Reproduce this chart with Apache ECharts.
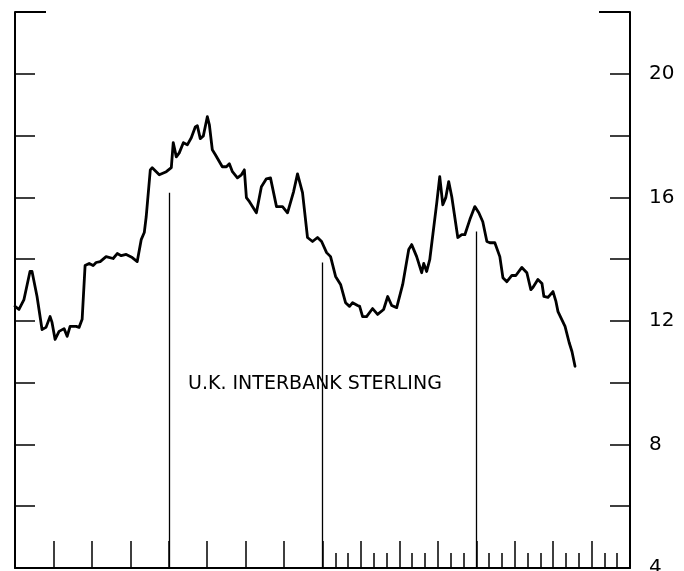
<!DOCTYPE html>
<html>
<head>
<meta charset="utf-8">
<script src="https://cdn.jsdelivr.net/npm/echarts@6/dist/echarts.min.js"></script>
<style>
  html, body { margin: 0; padding: 0; background: #fff; }
  #chart { width: 684px; height: 571px; }
</style>
</head>
<body>
<div id="chart"></div>
<script>
// months counted from the left edge of the chart (4 years = 48 months)
const months = [
  0, 0.31, 0.70, 1.17, 1.33, 1.72, 2.11, 2.42, 2.74, 2.89, 3.13, 3.44, 3.83, 4.07, 4.30, 4.77,
  5.00, 5.24, 5.47, 5.79, 6.10, 6.33, 6.65, 7.11, 7.66, 7.98, 8.29, 8.68, 9.15, 9.54, 9.85,
  10.09, 10.24, 10.56, 10.71, 11.26, 11.81, 12.20, 12.35, 12.59, 12.82, 13.14, 13.45, 13.76,
  14.07, 14.23, 14.46, 14.70, 15.01, 15.17, 15.40, 15.64, 16.18, 16.50, 16.73, 16.97, 17.36,
  17.67, 17.90, 18.06, 18.30, 18.84, 19.23, 19.62, 19.94, 20.41, 20.56, 20.88, 21.27, 21.74,
  22.05, 22.44, 22.83, 23.22, 23.61, 23.93, 24.32, 24.63, 25.02, 25.41, 25.80, 26.11, 26.35,
  26.74, 26.90, 27.13, 27.44, 27.91, 28.30, 28.77, 29.09, 29.40, 29.79, 30.26, 30.73, 30.96,
  31.35, 31.74, 31.90, 32.13, 32.37, 32.92, 33.15, 33.39, 33.62, 33.85, 34.09, 34.56, 34.87,
  35.11, 35.26, 35.50, 35.89, 36.20, 36.51, 36.83, 37.06, 37.45, 37.84, 38.08, 38.39, 38.78,
  39.09, 39.56, 39.95, 40.26, 40.42, 40.81, 41.13, 41.28, 41.60, 41.99, 42.22, 42.38, 42.93,
  43.25, 43.47, 43.71
]
const rates = [
  12.47, 12.37, 12.69, 13.60, 13.60, 12.79, 11.72, 11.79, 12.14, 11.95, 11.40, 11.66, 11.75, 11.50, 11.82, 11.82,
  11.79, 12.05, 13.79, 13.86, 13.79, 13.89, 13.92, 14.08, 14.02, 14.18, 14.11, 14.15, 14.05, 13.92, 14.63,
  14.86, 15.37, 16.89, 16.96, 16.73, 16.83, 16.96, 17.77, 17.31, 17.44, 17.77, 17.70, 17.93,
  18.28, 18.32, 17.90, 17.99, 18.61, 18.35, 17.54, 17.38, 16.99, 16.99, 17.09, 16.83, 16.63,
  16.73, 16.89, 15.99, 15.86, 15.50, 16.34, 16.60, 16.63, 15.70, 15.67, 15.70, 15.50, 16.18,
  16.76, 16.15, 14.70, 14.57, 14.70, 14.57, 14.21, 14.08, 13.44, 13.18, 12.59, 12.47, 12.59,
  12.50, 12.47, 12.14, 12.14, 12.40, 12.21, 12.37, 12.79, 12.50, 12.43, 13.18, 14.31, 14.47,
  14.08, 13.56, 13.86, 13.60, 13.98, 15.83, 16.67, 15.76, 15.99, 16.51, 16.02, 14.70, 14.79,
  14.79, 14.73, 15.28, 15.70, 15.50, 15.21, 14.57, 14.53, 14.53, 14.08, 13.40, 13.27, 13.47,
  13.47, 13.73, 13.56, 13.01, 13.08, 13.34, 13.21, 12.79, 12.76, 12.95, 12.63, 12.30, 11.82,
  11.30, 11.01, 10.53
]

// year boundaries: vertical rules drawn from the axis up to just below the curve
const yearMonths = [12, 24, 36]
const yearLineTops = [16.15, 13.89, 14.89]

// monthly tick positions along the bottom axis
const tickMonths = []
for (let i = 0; i <= 48; i++) tickMonths.push(String(i))

const labelValues = [4, 8, 12, 16, 20]
const chartLabel = 'U.K. INTERBANK STERLING'

const chart = echarts.init(document.getElementById('chart'))

const black = '#000'

const option = {
  animation: false,
  title: {
    text: chartLabel,
    left: 183,
    top: 370,
    textStyle: { fontFamily: 'DejaVu Sans', fontSize: 19, fontWeight: 'normal', color: black }
  },
  grid: { left: 15, right: 54, top: 12, bottom: 3, outerBoundsMode: 'none', containLabel: false },
  xAxis: [
    {
      type: 'value', min: 0, max: 48, interval: 3,
      axisLine: { show: true, lineStyle: { color: black, width: 2 } },
      axisTick: { show: true, inside: true, length: 27, lineStyle: { color: black, width: 1.5 } },
      axisLabel: { show: false },
      splitLine: { show: false }
    },
    {
      type: 'category', data: tickMonths, boundaryGap: false, position: 'bottom',
      axisLine: { show: false },
      axisTick: {
        show: true, inside: true, length: 15,
        interval: (i) => i > 24 && i % 3 !== 0,
        lineStyle: { color: black, width: 1.5 }
      },
      axisLabel: { show: false },
      splitLine: { show: false }
    }
  ],
  yAxis: [
    {
      type: 'value', min: 4, max: 22, interval: 2, position: 'left',
      axisLine: { show: true, lineStyle: { color: black, width: 2 } },
      axisTick: { show: true, inside: true, length: 20, lineStyle: { color: black, width: 1.5 } },
      axisLabel: { show: false },
      splitLine: { show: false }
    },
    {
      type: 'value', min: 4, max: 22, interval: 2, position: 'right',
      axisLine: { show: true, lineStyle: { color: black, width: 2 } },
      axisTick: { show: true, inside: true, length: 20, lineStyle: { color: black, width: 1.5 } },
      axisLabel: {
        show: true, margin: 19, color: black,
        fontFamily: 'DejaVu Sans', fontSize: 20,
        verticalAlign: 'middle',
        verticalAlignMinLabel: 'middle',
        formatter: (v) => labelValues.includes(v) ? String(v) : ''
      },
      splitLine: { show: false }
    },
    {
      type: 'value', min: 4, max: 22, interval: 18, position: 'left',
      axisLine: { show: false },
      axisTick: { show: true, inside: true, length: 31, lineStyle: { color: black, width: 2 } },
      axisLabel: { show: false },
      splitLine: { show: false }
    },
    {
      type: 'value', min: 4, max: 22, interval: 18, position: 'right',
      axisLine: { show: false },
      axisTick: { show: true, inside: true, length: 31, lineStyle: { color: black, width: 2 } },
      axisLabel: { show: false },
      splitLine: { show: false }
    }
  ],
  series: [{
    type: 'line',
    xAxisIndex: 0,
    yAxisIndex: 1,
    data: months.map((m, i) => [m, rates[i]]),
    showSymbol: false,
    symbol: 'none',
    lineStyle: { color: black, width: 2.8, join: 'round', cap: 'round' },
    markLine: {
      silent: true,
      symbol: 'none',
      label: { show: false },
      lineStyle: { color: black, width: 1.3, type: 'solid' },
      data: yearMonths.map((m, i) => [{ coord: [m, 4] }, { coord: [m, yearLineTops[i]] }])
    }
  }]
}

chart.setOption(option)
</script>
</body>
</html>
